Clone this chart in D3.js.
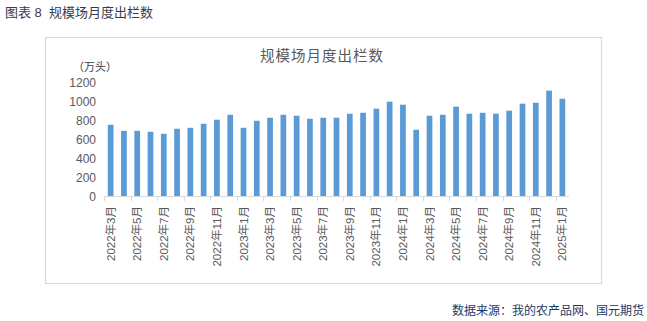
<!DOCTYPE html>
<html>
<head>
<meta charset="utf-8">
<script src="https://cdn.jsdelivr.net/npm/d3@7"></script>
<style>
  body { margin: 0; background: #fff; }
  text { font-family: "Liberation Sans", "Noto Sans CJK SC", sans-serif; }
</style>
</head>
<body>
<div id="chart"></div>
<script>
// months shown (Mar 2022 - Jan 2025)
const months = [];
const years = [2022, 2023, 2024, 2025];
years.forEach(y => {
  for (let m = 1; m <= 12; m++) {
    if ((y === 2022 && m < 3) || (y === 2025 && m > 1)) continue;
    months.push(y + "年" + m + "月");
  }
});

// 规模场月度出栏数 (万头)
const values = [750, 686, 686, 676, 655, 708, 718, 760, 803, 855,
                718, 792, 824, 855, 845, 813, 824, 824, 866, 876,
                919, 993, 961, 697, 845, 855, 940, 866, 876, 866,
                898, 972, 982, 1109, 1024];

const yTicks = [0, 200, 400, 600, 800, 1000, 1200];

const W = 647, H = 321;
const plot = {left: 104, right: 569, top: 82, bottom: 196};

const svg = d3.select("#chart")
  .append("svg")
    .attr("width", W)
    .attr("height", H);

// header
svg.append("text")
  .attr("x", 5).attr("y", 17)
  .attr("fill", "#3b3b4f")
  .style("font-size", "13px")
  .style("white-space", "pre")
  .text("图表 8  规模场月度出栏数");

// chart frame
svg.append("rect")
  .attr("x", 45.5).attr("y", 37.5)
  .attr("width", 556).attr("height", 246)
  .attr("fill", "none")
  .attr("stroke", "#d9d9d9")
  .attr("stroke-width", 1.2);

// chart title
svg.append("text")
  .attr("x", 322).attr("y", 61)
  .attr("text-anchor", "middle")
  .attr("fill", "#595959")
  .style("font-size", "14.5px")
  .style("letter-spacing", "1px")
  .text("规模场月度出栏数");

let x = d3.scaleBand()
  .domain(months)
  .range([plot.left, plot.right])
  .paddingInner(0.57)
  .paddingOuter(0.285);

let y = d3.scaleLinear()
  .domain([0, 1200])
  .range([plot.bottom, plot.top]);

// y labels
svg.selectAll("ylab")
  .data(yTicks)
  .enter()
  .append("text")
    .attr("x", 96)
    .attr("y", d => y(d) + 4.5)
    .attr("text-anchor", "end")
    .attr("fill", "#595959")
    .style("font-size", "12px")
    .text(d => d);

svg.append("text")
  .attr("x", 73).attr("y", 71)
  .attr("fill", "#404040")
  .style("font-size", "11px")
  .text("（万头）");

// bars
svg.selectAll("bars")
  .data(values)
  .enter()
  .append("rect")
    .attr("x", (d, i) => x(months[i]))
    .attr("y", d => y(d))
    .attr("width", x.bandwidth())
    .attr("height", d => y(0) - y(d))
    .attr("fill", "#5b9bd5");

// x axis line + ticks every 2 categories
svg.append("line")
  .attr("x1", plot.left).attr("x2", plot.right)
  .attr("y1", plot.bottom + 0.5).attr("y2", plot.bottom + 0.5)
  .attr("stroke", "#d9d9d9");

const gap = (x.step() - x.bandwidth()) / 2;
const tickIdx = d3.range(0, months.length, 2);
svg.selectAll("xtick")
  .data(tickIdx)
  .enter()
  .append("line")
    .attr("x1", i => Math.round(x(months[i]) - gap) + 0.5)
    .attr("x2", i => Math.round(x(months[i]) - gap) + 0.5)
    .attr("y1", plot.bottom)
    .attr("y2", plot.bottom + 5)
    .attr("stroke", "#d9d9d9");

// x labels, every other month
svg.selectAll("xlab")
  .data(tickIdx)
  .enter()
  .append("text")
    .attr("text-anchor", "end")
    .attr("fill", "#595959")
    .style("font-size", "11.5px")
    .attr("transform", i => "translate(" + (x(months[i]) + x.bandwidth() / 2 + 4) + "," + 206 + ")rotate(-90)")
    .text(i => months[i]);

// source
svg.append("text")
  .attr("x", 644).attr("y", 315)
  .attr("text-anchor", "end")
  .attr("fill", "#1f3864")
  .style("font-size", "12px")
  .text("数据来源：我的农产品网、国元期货");
</script>
</body>
</html>
